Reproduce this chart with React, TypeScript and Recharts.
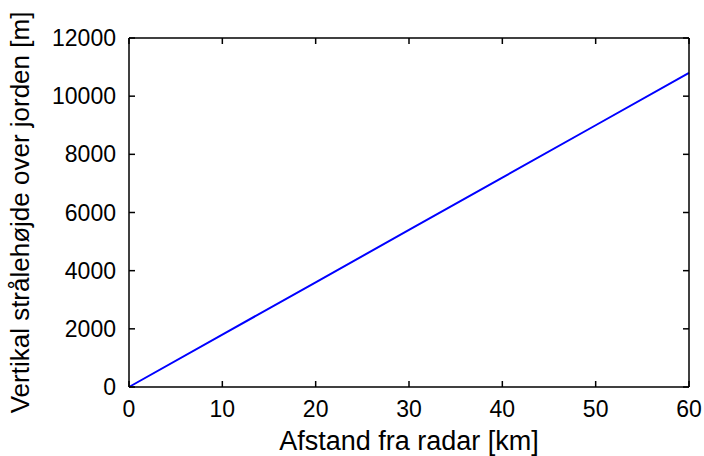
import { LineChart, Line, XAxis, YAxis } from 'recharts';

// Afstand fra radar [km]
const distanceKm = [0, 10, 20, 30, 40, 50, 60];
// Vertikal strålehøjde over jorden [m]
const beamHeightM = [0, 1800, 3600, 5400, 7200, 9000, 10800];

const xTicks = [0, 10, 20, 30, 40, 50, 60];
const yTicks = [0, 2000, 4000, 6000, 8000, 10000, 12000];

const data = distanceKm.map((d, i) => ({ d, h: beamHeightM[i] }));

const W = 704;
const H = 456;
const MARGIN = { top: 38, right: 15, left: 0, bottom: 0 };
const X_AXIS_H = 69;
const Y_AXIS_W = 129;
const PLOT_W = W - MARGIN.left - MARGIN.right - Y_AXIS_W;
const PLOT_H = H - MARGIN.top - MARGIN.bottom - X_AXIS_H;
const X_TICK_MARGIN = 14;
const Y_TICK_MARGIN = 13;
const TICK_LEN = 6;

const FONT = '"Liberation Sans", Arial, Helvetica, sans-serif';
const axisLine = { stroke: '#000', strokeWidth: 1.5 };

// MATLAB style: tick marks point into the box, on both opposite sides
function XTick(p: any) {
  const axisY = p.y - X_TICK_MARGIN;
  return (
    <g>
      <line x1={p.x} x2={p.x} y1={axisY} y2={axisY - TICK_LEN} stroke="#000" strokeWidth={1.5} />
      <line
        x1={p.x}
        x2={p.x}
        y1={axisY - PLOT_H}
        y2={axisY - PLOT_H + TICK_LEN}
        stroke="#000"
        strokeWidth={1.5}
      />
      <text x={p.x} y={p.y} dy="0.71em" textAnchor="middle" fill="#000" fontSize={23} fontFamily={FONT}>
        {p.payload.value}
      </text>
    </g>
  );
}

function YTick(p: any) {
  const axisX = p.x + Y_TICK_MARGIN;
  return (
    <g>
      <line x1={axisX} x2={axisX + TICK_LEN} y1={p.y} y2={p.y} stroke="#000" strokeWidth={1.5} />
      <line
        x1={axisX + PLOT_W}
        x2={axisX + PLOT_W - TICK_LEN}
        y1={p.y}
        y2={p.y}
        stroke="#000"
        strokeWidth={1.5}
      />
      <text x={p.x} y={p.y} dy="0.355em" textAnchor="end" fill="#000" fontSize={23} fontFamily={FONT}>
        {p.payload.value}
      </text>
    </g>
  );
}

export default function App() {
  return (
    <div style={{ position: 'absolute', left: 0, top: 0, background: '#fff' }}>
      <LineChart width={W} height={H} data={data} margin={MARGIN}>
        <XAxis
          dataKey="d"
          type="number"
          domain={[0, 60]}
          ticks={xTicks}
          interval={0}
          height={X_AXIS_H}
          tick={XTick}
          axisLine={axisLine}
          tickLine={false}
          tickSize={0}
          tickMargin={X_TICK_MARGIN}
          label={{
            value: 'Afstand fra radar [km]',
            position: 'center',
            dy: 19,
            style: { fill: '#000', fontSize: 27, fontFamily: FONT, textAnchor: 'middle' },
          }}
        />
        <YAxis
          type="number"
          domain={[0, 12000]}
          ticks={yTicks}
          interval={0}
          width={Y_AXIS_W}
          tick={YTick}
          axisLine={axisLine}
          tickLine={false}
          tickSize={0}
          tickMargin={Y_TICK_MARGIN}
          label={{
            value: 'Vertikal strålehøjde over jorden [m]',
            angle: -90,
            position: 'center',
            dx: -45,
            style: { fill: '#000', fontSize: 26, fontFamily: FONT, textAnchor: 'middle' },
          }}
        />
        {/* top and right edges of the box */}
        <XAxis
          xAxisId="top"
          orientation="top"
          type="number"
          domain={[0, 60]}
          mirror
          height={1}
          tick={false}
          axisLine={axisLine}
          tickLine={false}
        />
        <YAxis
          yAxisId="right"
          orientation="right"
          type="number"
          domain={[0, 12000]}
          mirror
          width={1}
          tick={false}
          axisLine={axisLine}
          tickLine={false}
        />
        <Line
          type="linear"
          dataKey="h"
          stroke="#0000ff"
          strokeWidth={2}
          dot={false}
          isAnimationActive={false}
        />
      </LineChart>
    </div>
  );
}
